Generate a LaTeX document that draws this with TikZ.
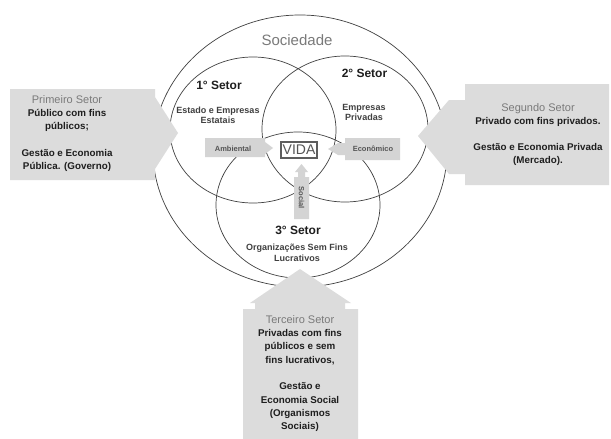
\documentclass[tikz,border=0pt]{standalone}
\usepackage{fontspec}
\setmainfont{Liberation Sans}
\definecolor{linec}{HTML}{404040}
\definecolor{arrowfill}{HTML}{DCDCDC}
\definecolor{smallfill}{HTML}{D4D4D4}
\definecolor{graytxt}{HTML}{7A7A7A}
\definecolor{darktxt}{HTML}{1E1E1E}
\definecolor{midtxt}{HTML}{555555}
\newcommand{\gtxt}{\color{graytxt}\mdseries\fontsize{11}{13.3}\selectfont}
\begin{document}
\begin{tikzpicture}[x=1pt,y=-1pt,
  ring/.style={draw=linec, line width=0.7pt},
  bigarrow/.style={fill=arrowfill, draw=none},
  smallarrow/.style={fill=smallfill, draw=none},
  blocktext/.style={align=center, text=darktxt, font=\bfseries\fontsize{9.8}{13.3}\selectfont, inner sep=0pt},
  sectitle/.style={text=darktxt, font=\bfseries\fontsize{12}{14}\selectfont, inner sep=0pt},
  secsub/.style={align=center, text=darktxt!85, font=\bfseries\fontsize{9}{10.5}\selectfont, inner sep=0pt},
  smalllabel/.style={text=midtxt, font=\bfseries\fontsize{7.5}{9}\selectfont, inner sep=0pt}]
\useasboundingbox (0,0) rectangle (611,439);
\fill[white] (0,0) rectangle (611,439);
% circles
\draw[ring] (300,151) ellipse [x radius=147pt, y radius=136pt];
\draw[ring] (253,130) ellipse [x radius=83pt, y radius=73pt];
\draw[ring] (345,129) ellipse [x radius=83pt, y radius=73pt];
\draw[ring] (298,205) ellipse [x radius=82pt, y radius=73pt];
% big arrows
\fill[bigarrow] (10,89) -- (155,89) -- (155,97) -- (178,133) -- (155,169) -- (155,180) -- (10,180) -- cycle;
\fill[bigarrow] (609,84) -- (465,84) -- (465,100) -- (449,100) -- (418,136) -- (449,174) -- (465,174) -- (465,185) -- (609,185) -- cycle;
\fill[bigarrow] (243,439) -- (243,309) -- (255,309) -- (255,303) -- (250,303) -- (300,269) -- (351,303) -- (345,303) -- (345,309) -- (358,309) -- (358,439) -- cycle;
% small arrows
\fill[smallarrow] (205,138) -- (265,138) -- (265,142) -- (273,148) -- (265,154) -- (265,157) -- (205,157) -- cycle;
\fill[smallarrow] (400,138) -- (345,138) -- (345,143) -- (338,143) -- (328,149) -- (338,155) -- (345,155) -- (345,160) -- (400,160) -- cycle;
\fill[smallarrow] (294,219) -- (294,177) -- (298,177) -- (298,172) -- (295,172) -- (301.5,164) -- (308,172) -- (305,172) -- (305,177) -- (309,177) -- (309,219) -- cycle;
% VIDA
\node[draw=linec!85, line width=1.1pt, fill=white, minimum width=36pt, minimum height=16pt, inner sep=0pt, text=midtxt, font=\fontsize{14}{16}\selectfont] (vida) at (299,150) {VIDA};
% labels
\node[text=graytxt, font=\fontsize{15}{18}\selectfont, inner sep=0pt] (soc) at (297,40) {Sociedade};
\node[sectitle] (s1) at (219,85) {1° Setor};
\node[secsub] (s1d) at (218,115.5) {Estado e Empresas\\Estatais};
\node[sectitle] (s2) at (364.5,73) {2° Setor};
\node[secsub] (s2d) at (364,112.5) {Empresas\\Privadas};
\node[sectitle] (s3) at (298,230) {3° Setor};
\node[secsub] (s3d) at (297,253) {Organizações Sem Fins\\Lucrativos};
\node[smalllabel] (amb) at (233,148.5) {Ambiental};
\node[smalllabel] (eco) at (373,149) {Econômico};
\node[smalllabel, rotate=-90] (socl) at (301.5,198) {Social};
% block texts
\node[blocktext] (t1) at (67,133.5) {{\gtxt Primeiro Setor}\\Público com fins\\públicos;\\[13.3pt]Gestão e Economia\\Pública. (Governo)};
\node[blocktext] (t2) at (538,134.5) {{\gtxt Segundo Setor}\\Privado com fins privados.\\[12.5pt]Gestão e Economia Privada\\(Mercado).};
\node[blocktext] (t3) at (300,373.5) {{\gtxt Terceiro Setor}\\Privadas com fins\\públicos e sem\\fins lucrativos,\\[13.3pt]Gestão e\\Economia Social\\(Organismos\\Sociais)};
\end{tikzpicture}
\end{document}
